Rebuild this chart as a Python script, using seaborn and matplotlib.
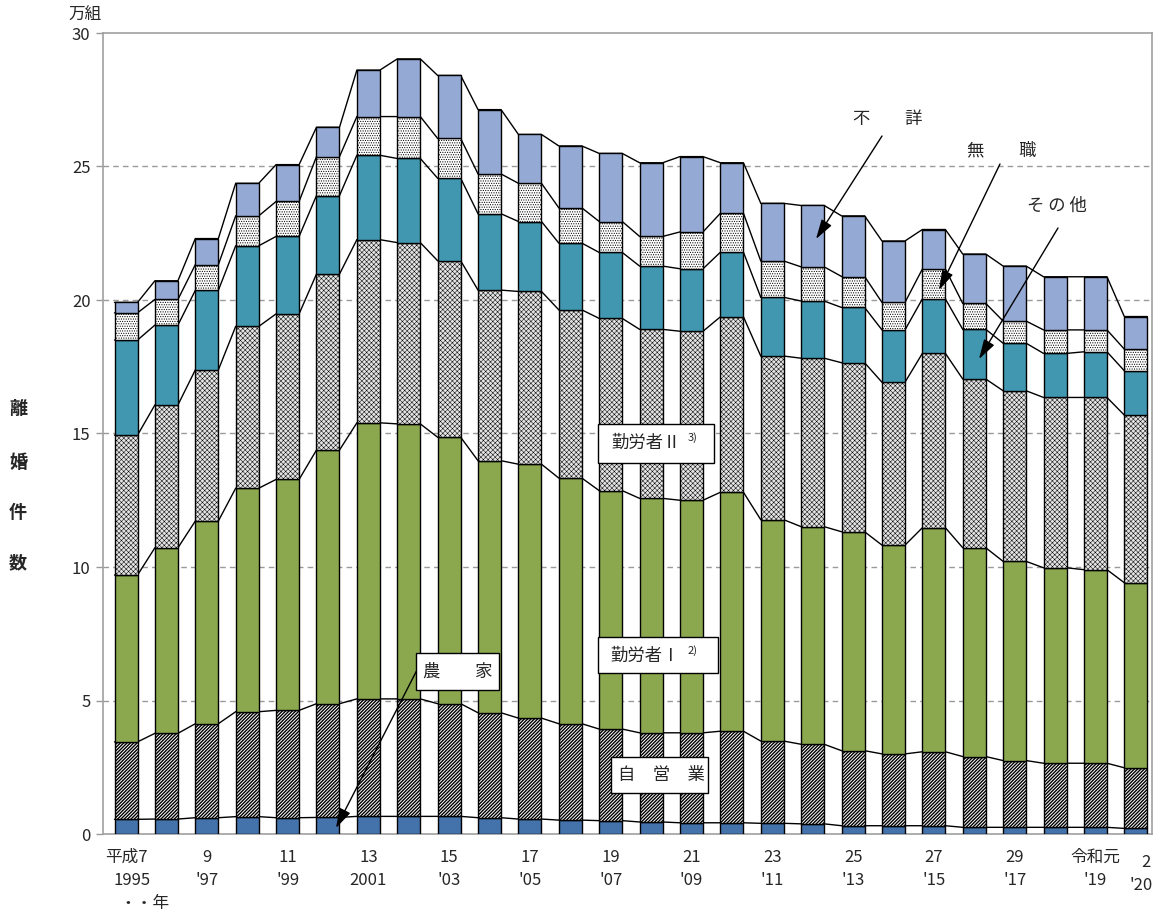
import numpy as np
import pandas as pd
import matplotlib
matplotlib.use("Agg")
import matplotlib.pyplot as plt
import seaborn as sns

# ---------------- data (万組) ----------------
years = list(range(1995, 2021))
era_labels = ["平成7", "", "9", "", "11", "", "13", "", "15", "", "17", "", "19", "",
              "21", "", "23", "", "25", "", "27", "", "29", "", "令和元", "2"]
west_labels = ["1995", "", "'97", "", "'99", "", "2001", "", "'03", "", "'05", "", "'07", "",
               "'09", "", "'11", "", "'13", "", "'15", "", "'17", "", "'19", "'20"]

farm = [0.55, 0.56, 0.61, 0.65, 0.61, 0.62, 0.66, 0.66, 0.66, 0.61, 0.56, 0.52, 0.50,
        0.45, 0.42, 0.42, 0.40, 0.38, 0.31, 0.31, 0.31, 0.25, 0.25, 0.25, 0.25, 0.21]
self_emp = [2.90, 3.21, 3.52, 3.93, 4.02, 4.26, 4.40, 4.40, 4.22, 3.93, 3.78, 3.61, 3.43,
            3.34, 3.37, 3.43, 3.08, 2.98, 2.81, 2.69, 2.77, 2.65, 2.50, 2.40, 2.40, 2.27]
worker1 = [6.25, 6.95, 7.59, 8.37, 8.65, 9.50, 10.34, 10.30, 9.98, 9.44, 9.51, 9.20, 8.93,
           8.78, 8.71, 8.95, 8.29, 8.15, 8.20, 7.82, 8.39, 7.82, 7.46, 7.32, 7.25, 6.93]
worker2 = [5.24, 5.35, 5.66, 6.06, 6.20, 6.59, 6.86, 6.79, 6.61, 6.39, 6.47, 6.30, 6.45,
           6.33, 6.33, 6.57, 6.13, 6.31, 6.33, 6.10, 6.53, 6.32, 6.39, 6.38, 6.45, 6.28]
other = [3.56, 2.99, 2.98, 3.02, 2.90, 2.94, 3.16, 3.15, 3.09, 2.86, 2.62, 2.50, 2.47,
         2.37, 2.34, 2.42, 2.20, 2.14, 2.07, 1.96, 2.04, 1.86, 1.78, 1.65, 1.71, 1.66]
nojob = [1.02, 0.96, 0.96, 1.12, 1.31, 1.46, 1.45, 1.57, 1.49, 1.49, 1.43, 1.32, 1.16,
         1.11, 1.38, 1.46, 1.36, 1.28, 1.16, 1.03, 1.12, 0.97, 0.83, 0.88, 0.82, 0.81]
unknown = [0.39, 0.70, 0.98, 1.22, 1.38, 1.10, 1.74, 2.16, 2.36, 2.41, 1.83, 2.32, 2.55,
           2.76, 2.82, 1.89, 2.16, 2.30, 2.27, 2.30, 1.48, 1.85, 2.06, 1.99, 1.99, 1.22]

df = pd.DataFrame({"idx": list(range(len(years))), "year": years,
                   "農家": farm, "自営業": self_emp, "勤労者Ⅰ": worker1, "勤労者Ⅱ": worker2,
                   "その他": other, "無職": nojob, "不詳": unknown})

# (column, facecolor, hatch, hatch colour, hatch linewidth)
layers = [
    ("農家", "#4472AB", None, "black", 0.8),
    ("自営業", "white", "/" * 10, "black", 1.0),
    ("勤労者Ⅰ", "#8BA84F", None, "black", 0.8),
    ("勤労者Ⅱ", "#e4e4e4", "x" * 7, "#555555", 0.35),
    ("その他", "#4197B0", None, "black", 0.8),
    ("無職", "white", "." * 7, "black", 0.5),
    ("不詳", "#94AAD4", None, "black", 0.8),
]

# ---------------- style ----------------
sns.set_theme(style="white")
plt.rcParams["font.family"] = ["Noto Sans CJK JP", "DejaVu Sans"]

W, H = 1157, 913
fig = plt.figure(figsize=(W / 100, H / 100), dpi=100)
ax = fig.add_axes([103 / W, 1 - 834 / H, (1152 - 103) / W, (834 - 33) / H])

bar_w = 0.57
bottom = np.zeros(len(years))
levels = []
for col, fc, hatch, hc, hlw in layers:
    plt.rcParams["hatch.linewidth"] = hlw
    plt.rcParams["hatch.color"] = hc
    n_before = len(ax.patches)
    sns.barplot(data=df, x="idx", y=col, bottom=bottom.copy(), color=fc, saturation=1,
                width=bar_w, edgecolor="black", linewidth=1.0, hatch=hatch,
                errorbar=None, ax=ax, zorder=3)
    if hatch is not None:
        for p in ax.patches[n_before:]:
            try:
                p.set_hatchcolor(hc)
            except AttributeError:
                pass
            try:
                p.set_hatch_linewidth(hlw)
            except AttributeError:
                pass
            p.set_edgecolor("black")
    bottom = bottom + df[col].to_numpy()
    levels.append(bottom.copy())

# connecting lines between adjacent bars
pos = df["idx"].to_numpy()
xs = np.column_stack([pos - bar_w / 2, pos + bar_w / 2]).ravel()
for lv in levels:
    ys = np.repeat(lv, 2)
    ax.plot(xs, ys, color="black", lw=1.0, zorder=2, solid_joinstyle="miter")

# axes
ax.set_xlim(-0.57, 25.4)
ax.set_ylim(0, 30)
ax.set_yticks(range(0, 31, 5))
ax.set_yticklabels([str(v) for v in range(0, 31, 5)], fontsize=12)
ax.set_xticks([])
ax.set_xlabel("")
ax.set_ylabel("")
ax.tick_params(axis="y", direction="out", length=5, width=1, color="#999999", pad=4,
               left=True)
for v in range(5, 30, 5):
    ax.axhline(v, color="#9a9a9a", lw=1.0, ls=(0, (4, 3)), zorder=0)
for side in ["left", "bottom", "right", "top"]:
    ax.spines[side].set_visible(True)
    ax.spines[side].set_color("#a0a0a0")
    ax.spines[side].set_linewidth(1.2)

# x labels (two rows)
tx = ax.get_xaxis_transform()
for i, (e, w) in enumerate(zip(era_labels, west_labels)):
    if i == len(years) - 1:
        ax.text(i + 0.25, (834 - 862) / 801, e, transform=tx, ha="center", va="center", fontsize=12)
        ax.text(i + 0.12, (834 - 885) / 801, w, transform=tx, ha="center", va="center", fontsize=12)
        continue
    if e:
        ax.text(i, (834 - 857) / 801, e, transform=tx, ha="center", va="center", fontsize=12)
    if w:
        ax.text(i + (0.15 if i == 0 else 0), (834 - 880) / 801, w, transform=tx,
                ha="center", va="center", fontsize=12)
ax.text(0.45, (834 - 903) / 801, "・・年", transform=tx, ha="center", va="center", fontsize=12)

# unit and y label
fig.text(85 / W, 1 - 15 / H, "万組", ha="center", va="center", fontsize=12)
for ch, py in zip("離婚件数", [408, 462, 513, 563]):
    fig.text(18 / W, 1 - py / H, ch, ha="center", va="center", fontsize=13, fontweight="bold")


def fxy(px, py):
    return (px / W, 1 - py / H)


def box(x0, y0, x1, y1):
    r = plt.Rectangle(fxy(x0, y1), (x1 - x0) / W, (y1 - y0) / H, transform=fig.transFigure,
                      facecolor="white", edgecolor="black", lw=1.0, zorder=10)
    fig.add_artist(r)


# boxed labels
box(598, 424, 714, 463)
fig.text(*fxy(646, 443), "勤労者Ⅱ", ha="center", va="center", fontsize=12.5, zorder=11)
fig.text(*fxy(693, 438), "3)", ha="center", va="center", fontsize=8, zorder=11)

box(598, 637, 718, 673)
fig.text(*fxy(645, 656), "勤労者Ⅰ", ha="center", va="center", fontsize=12.5, zorder=11)
fig.text(*fxy(693, 651), "2)", ha="center", va="center", fontsize=8, zorder=11)

box(611, 757, 708, 793)
fig.text(*fxy(661, 775), "自　営　業", ha="center", va="center", fontsize=12.5, zorder=11)

box(416, 653, 499, 690)
fig.text(*fxy(458, 672), "農　　家", ha="center", va="center", fontsize=12.5, zorder=11)

arrow = dict(arrowstyle="-|>,head_width=0.3,head_length=1.0", color="black", lw=1.0,
             shrinkA=0, shrinkB=0)
ax.annotate("", xy=fxy(336, 828), xycoords="figure fraction", xytext=fxy(417, 670),
            textcoords="figure fraction", arrowprops=arrow, zorder=12)

# labels with arrows
fig.text(*fxy(888, 119), "不　　詳", ha="center", va="center", fontsize=12.5)
ax.annotate("", xy=fxy(816, 239), xycoords="figure fraction", xytext=fxy(882, 136),
            textcoords="figure fraction", arrowprops=arrow, zorder=12)

fig.text(*fxy(1002, 150), "無　　職", ha="center", va="center", fontsize=12.5)
ax.annotate("", xy=fxy(939, 290), xycoords="figure fraction", xytext=fxy(1000, 164),
            textcoords="figure fraction", arrowprops=arrow, zorder=12)

fig.text(*fxy(1057, 206), "そ の 他", ha="center", va="center", fontsize=12.5)
ax.annotate("", xy=fxy(979, 359), xycoords="figure fraction", xytext=fxy(1058, 228),
            textcoords="figure fraction", arrowprops=arrow, zorder=12)

fig.savefig("out.png", dpi=100)
